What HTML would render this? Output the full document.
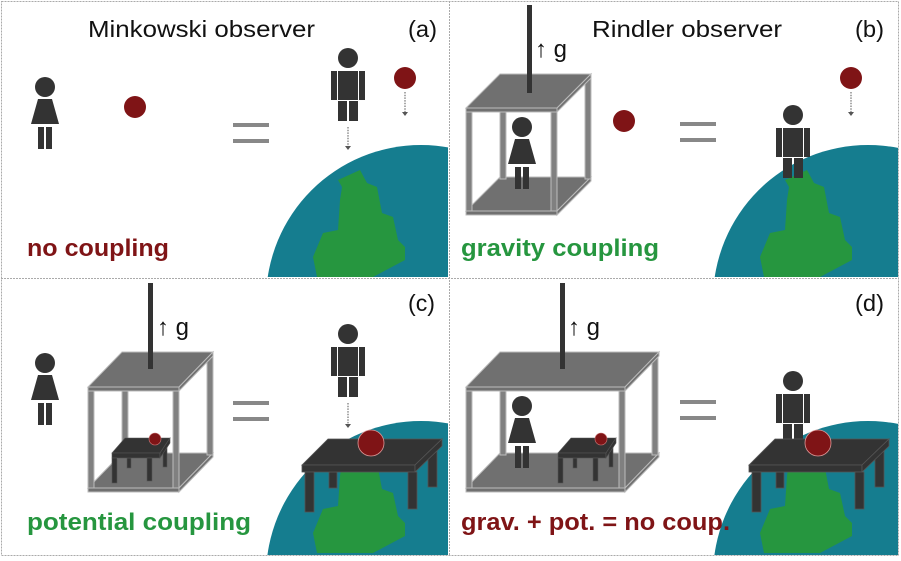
<!DOCTYPE html>
<html><head><meta charset="utf-8"><style>
html,body{margin:0;padding:0;background:#fff;width:901px;height:561px;overflow:hidden;}
svg{display:block;}
text{font-family:"Liberation Sans",sans-serif;}
</style></head><body>
<svg width="901" height="561" viewBox="0 0 901 561" xmlns="http://www.w3.org/2000/svg">
<defs>
<g id="man" fill="#333">
<circle cx="0" cy="0" r="10"/>
<rect x="-10" y="13" width="20" height="29"/>
<rect x="-17" y="13" width="6" height="29"/>
<rect x="11" y="13" width="6" height="29"/>
<rect x="-10" y="43" width="9" height="20"/>
<rect x="1" y="43" width="9" height="20"/>
</g>
<g id="woman" fill="#333">
<circle cx="0" cy="0" r="10"/>
<polygon points="-7,12 7,12 14,37 -14,37"/>
<rect x="-7" y="40" width="6" height="22"/>
<rect x="1" y="40" width="6" height="22"/>
</g>
<g id="land">
<polygon fill="#26963f" points="-83,-120 -61,-130 -54,-117 -44,-113 -39,-87 -28,-83 -23,-60 -16,-53 -16,-40 -48,-23 -104,-23 -108,-43 -98,-67 -83,-70 -81,-100 -79,-113"/>
</g>
<g id="eq" fill="#888">
<rect x="0" y="0" width="36" height="4"/>
<rect x="0" y="16" width="36" height="4"/>
</g>
<g id="smalltable">
<g fill="#333" stroke="#555" stroke-width="0.6">
<rect x="127" y="458" width="4" height="10"/>
<rect x="163" y="447" width="4" height="20"/>
<polygon points="112,453 125,438 170,438 160,453"/>
<rect x="112" y="453" width="48" height="5"/>
<polygon points="160,453 170,438 170,443 160,458"/>
<rect x="112" y="458" width="5" height="25"/>
<rect x="147" y="458" width="5" height="23"/>
</g>
<circle cx="155" cy="439" r="6" fill="#7f1416" stroke="#c77" stroke-width="0.6"/>
</g>
<g id="bigtable">
<g fill="#333" stroke="#555" stroke-width="0.8">
<rect x="329" y="472" width="8" height="16"/>
<rect x="428" y="450" width="9" height="37"/>
<polygon points="302,465 328,439 442,439 415,465"/>
<rect x="302" y="465" width="113" height="7"/>
<polygon points="415,465 442,439 442,446 415,472"/>
<rect x="305" y="472" width="9" height="40"/>
<rect x="408" y="472" width="9" height="37"/>
</g>
<circle cx="371" cy="443" r="13" fill="#7f1416" stroke="#d99" stroke-width="0.8"/>
</g>
<clipPath id="ca"><rect x="2" y="2" width="446" height="275"/></clipPath>
<clipPath id="cb"><rect x="451" y="2" width="447" height="275"/></clipPath>
<clipPath id="cc"><rect x="2" y="280" width="446" height="275"/></clipPath>
<clipPath id="cd"><rect x="451" y="280" width="447" height="275"/></clipPath>
</defs>

<g stroke="#aaa" stroke-width="1" stroke-dasharray="2,1" fill="none">
<rect x="1.5" y="1.5" width="897" height="554"/>
<line x1="449.5" y1="1" x2="449.5" y2="556"/>
<line x1="1" y1="278.5" x2="899" y2="278.5"/>
</g>

<g clip-path="url(#ca)"><circle cx="421" cy="300" r="155" fill="#157d8f"/><use href="#land" transform="translate(421,300)"/></g>
<g clip-path="url(#cb)"><circle cx="868" cy="300" r="155" fill="#157d8f"/><use href="#land" transform="translate(868,300)"/></g>
<g clip-path="url(#cc)"><circle cx="421" cy="576" r="155" fill="#157d8f"/><use href="#land" transform="translate(421,576)"/></g>
<g clip-path="url(#cd)"><circle cx="868" cy="576" r="155" fill="#157d8f"/><use href="#land" transform="translate(868,576)"/></g>

<!-- Panel a -->
<text x="88" y="37" font-size="23" textLength="227" lengthAdjust="spacingAndGlyphs" fill="#111">Minkowski observer</text>
<text x="408" y="37" font-size="23" textLength="29" lengthAdjust="spacingAndGlyphs" fill="#111">(a)</text>
<use href="#woman" transform="translate(45,87)"/>
<circle cx="135" cy="107" r="11" fill="#7f1416"/>
<use href="#eq" transform="translate(233,123)"/>
<use href="#man" transform="translate(348,58)"/>
<circle cx="405" cy="78" r="11" fill="#7f1416"/>
<g stroke="#555" stroke-width="1" stroke-dasharray="1.5,1.2"><line x1="348" y1="127" x2="348" y2="147"/><line x1="405" y1="92" x2="405" y2="113"/></g>
<g fill="#555"><polygon points="345,146 351,146 348,150"/><polygon points="402,112 408,112 405,116"/></g>
<text x="27" y="256" font-size="24" font-weight="bold" fill="#7f1416" textLength="142" lengthAdjust="spacingAndGlyphs">no coupling</text>

<!-- Panel b -->
<text x="592" y="37" font-size="23" textLength="190" lengthAdjust="spacingAndGlyphs" fill="#111">Rindler observer</text>
<text x="855" y="37" font-size="23" textLength="29" lengthAdjust="spacingAndGlyphs" fill="#111">(b)</text>
<g stroke="#bbb" stroke-width="1">
<polygon points="466,211 500,177 591,177 557,211" fill="#707070"/>
<rect x="466" y="211" width="91" height="4" fill="#707070"/>
<polygon points="557,211 591,177 591,181 557,215" fill="#707070"/>
<rect x="500" y="79" width="6" height="100" fill="#808080"/>
<rect x="585" y="79" width="6" height="100" fill="#808080"/>
</g>
<use href="#woman" transform="translate(522,127)"/>
<g stroke="#bbb" stroke-width="1">
<rect x="466" y="112" width="6" height="99" fill="#808080"/>
<rect x="551" y="112" width="6" height="99" fill="#808080"/>
<polygon points="466,108 500,74 591,74 557,108" fill="#707070"/>
<rect x="466" y="108" width="91" height="4" fill="#707070"/>
<polygon points="557,108 591,74 591,78 557,112" fill="#707070"/>
</g>
<rect x="527" y="5" width="5" height="88" fill="#333"/>
<text x="535" y="57" font-size="24" fill="#111" textLength="32" lengthAdjust="spacingAndGlyphs">↑ g</text>
<circle cx="624" cy="121" r="11" fill="#7f1416"/>
<use href="#eq" transform="translate(680,122)"/>
<use href="#man" transform="translate(793,115)"/>
<circle cx="851" cy="78" r="11" fill="#7f1416"/>
<line x1="851" y1="92" x2="851" y2="112" stroke="#555" stroke-dasharray="1.5,1.2"/>
<polygon points="848,112 854,112 851,116" fill="#555"/>
<text x="461" y="256" font-size="24" font-weight="bold" fill="#26963f" textLength="198" lengthAdjust="spacingAndGlyphs">gravity coupling</text>

<!-- Panel c -->
<text x="408" y="311" font-size="23" textLength="27" lengthAdjust="spacingAndGlyphs" fill="#111">(c)</text>
<use href="#woman" transform="translate(45,363)"/>
<g stroke="#bbb" stroke-width="1">
<polygon points="88,488 122,453 213,453 179,488" fill="#707070"/>
<rect x="88" y="488" width="91" height="4" fill="#707070"/>
<polygon points="179,488 213,453 213,457 179,492" fill="#707070"/>
<rect x="122" y="355" width="6" height="100" fill="#808080"/>
<rect x="207" y="355" width="6" height="100" fill="#808080"/>
</g>
<use href="#smalltable"/>
<g stroke="#bbb" stroke-width="1">
<rect x="88" y="391" width="6" height="97" fill="#808080"/>
<rect x="173" y="391" width="6" height="97" fill="#808080"/>
<polygon points="88,387 122,352 213,352 179,387" fill="#707070"/>
<rect x="88" y="387" width="91" height="4" fill="#707070"/>
<polygon points="179,387 213,352 213,356 179,391" fill="#707070"/>
</g>
<rect x="148" y="283" width="5" height="86" fill="#333"/>
<text x="157" y="335" font-size="24" fill="#111" textLength="32" lengthAdjust="spacingAndGlyphs">↑ g</text>
<use href="#eq" transform="translate(233,401)"/>
<use href="#man" transform="translate(348,334)"/>
<line x1="348" y1="403" x2="348" y2="425" stroke="#555" stroke-dasharray="1.5,1.2"/>
<polygon points="345,424 351,424 348,428" fill="#555"/>
<use href="#bigtable"/>
<text x="27" y="530" font-size="24" font-weight="bold" fill="#26963f" textLength="224" lengthAdjust="spacingAndGlyphs">potential coupling</text>

<!-- Panel d -->
<text x="855" y="311" font-size="23" textLength="29" lengthAdjust="spacingAndGlyphs" fill="#111">(d)</text>
<g stroke="#bbb" stroke-width="1">
<polygon points="466,488 500,453 659,453 625,488" fill="#707070"/>
<rect x="466" y="488" width="159" height="4" fill="#707070"/>
<polygon points="625,488 659,453 659,457 625,492" fill="#707070"/>
<rect x="500" y="355" width="6" height="100" fill="#808080"/>
<rect x="652" y="355" width="6" height="100" fill="#808080"/>
</g>
<use href="#woman" transform="translate(522,406)"/>
<use href="#smalltable" transform="translate(446,0)"/>
<g stroke="#bbb" stroke-width="1">
<rect x="466" y="391" width="6" height="97" fill="#808080"/>
<rect x="619" y="391" width="6" height="97" fill="#808080"/>
<polygon points="466,387 500,352 659,352 625,387" fill="#707070"/>
<rect x="466" y="387" width="159" height="4" fill="#707070"/>
<polygon points="625,387 659,352 659,356 625,391" fill="#707070"/>
</g>
<rect x="560" y="283" width="5" height="86" fill="#333"/>
<text x="568" y="335" font-size="24" fill="#111" textLength="32" lengthAdjust="spacingAndGlyphs">↑ g</text>
<use href="#eq" transform="translate(680,400)"/>
<use href="#man" transform="translate(793,381)"/>
<use href="#bigtable" transform="translate(447,0)"/>
<text x="461" y="530" font-size="24" font-weight="bold" fill="#7f1416" textLength="269" lengthAdjust="spacingAndGlyphs">grav. + pot. = no coup.</text>
</svg>
</body></html>
